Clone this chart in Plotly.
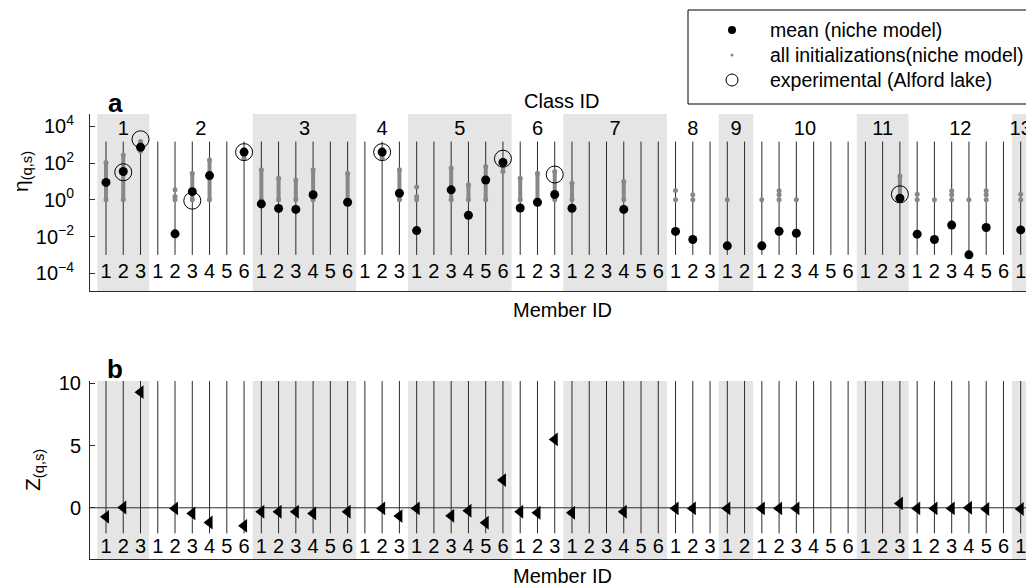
import plotly.graph_objects as go

# ---------------- data ----------------
class_sizes = [3, 6, 6, 3, 6, 3, 6, 3, 2, 6, 3, 6, 1]
class_names = ["1", "2", "3", "4", "5", "6", "7", "8", "9", "10", "11", "12", "13"]

# mean eta (niche model), one entry per member, None = no value
mean_eta = (
    [8.9, 35, 740]
    + [None, 0.014, 2.8, 21, None, 400]
    + [0.6, 0.34, 0.3, 1.9, None, 0.74]
    + [None, 400, 2.3]
    + [0.021, None, 3.5, 0.145, 12, 110]
    + [0.36, 0.74, 1.95]
    + [0.35, None, None, 0.3, None, None]
    + [0.019, 0.0069, None]
    + [0.0031, None]
    + [0.0031, 0.0195, 0.015, None, None, None]
    + [None, None, 1.23]
    + [0.0135, 0.0069, 0.042, 0.001, 0.031, None]
    + [0.023]
)

# experimental (Alford lake)
exp_eta = (
    [None, 32, 2000]
    + [None, None, 0.9, None, None, 400]
    + [None, None, None, None, None, None]
    + [None, 400, None]
    + [None, None, None, None, None, 175]
    + [None, None, 24]
    + [None] * 6
    + [None] * 3
    + [None] * 2
    + [None] * 6
    + [None, None, 2.0]
    + [None] * 6
    + [None]
)

# all initializations: dense band (low, high) and isolated values
init_lo = (
    [1, 1, 440]
    + [None, None, 1, 1, None, 190]
    + [1, 1, 1, 1, None, 1]
    + [None, 190, 1]
    + [None, None, 1, 1, 1, 35]
    + [1, 1, 1]
    + [1, None, None, 1, None, None]
    + [None] * 3
    + [None] * 2
    + [None] * 6
    + [None, None, 1]
    + [None] * 6
    + [None]
)
init_hi = (
    [110, 280, 1500]
    + [None, None, 28, 150, None, 540]
    + [44, 15, 12, 44, None, 28]
    + [None, 540, 44]
    + [None, None, 54, 6.6, 66, 150]
    + [15, 28, 35]
    + [8, None, None, 10, None, None]
    + [None] * 3
    + [None] * 2
    + [None] * 6
    + [None, None, 20]
    + [None] * 6
    + [None]
)
init_dots = (
    [[1, 110], [1, 280], [440, 1500]]
    + [[], [1, 1.5, 3.5], [1, 28], [1, 150], [], [190, 540]]
    + [[1, 44], [1, 15], [1, 12], [1, 44], [], [1, 28]]
    + [[], [190, 540], [1, 44]]
    + [[1, 1.5, 5], [], [1, 54], [1, 6.6], [1, 66], [35, 150]]
    + [[1, 15], [1, 28], [1, 35]]
    + [[1, 8], [], [], [1, 10], [], []]
    + [[1, 3.2], [1, 1.9], []]
    + [[1], []]
    + [[1], [1, 1.9, 3.1], [1], [], [], []]
    + [[], [], [1, 20]]
    + [[1, 2], [1], [1, 1.9, 3.1], [1], [1, 1.9, 3.1], []]
    + [[1, 2]]
)

# Z score per member
z_score = (
    [-0.73, 0.02, 9.3]
    + [None, -0.05, -0.45, -1.18, None, -1.45]
    + [-0.32, -0.32, -0.32, -0.45, None, -0.32]
    + [None, -0.05, -0.67]
    + [-0.05, None, -0.65, -0.24, -1.2, 2.23]
    + [-0.32, -0.4, 5.5]
    + [-0.4, None, None, -0.32, None, None]
    + [-0.05, -0.05, None]
    + [-0.05, None]
    + [-0.05, -0.05, -0.05, None, None, None]
    + [None, None, 0.35]
    + [-0.05, -0.05, -0.05, 0.0, -0.1, None]
    + [-0.1]
)

eta_ticks = [1e-4, 1e-2, 1, 1e2, 1e4]
eta_ticktext = ["10<sup>\u22124</sup>", "10<sup>\u22122</sup>", "10<sup>0</sup>", "10<sup>2</sup>", "10<sup>4</sup>"]
z_ticks = [0, 5, 10]

# ---------------- derived member positions ----------------
member_x, member_lbl, class_center, class_start = [], [], [], []
idx = 0
for n in class_sizes:
    class_start.append(idx)
    class_center.append(idx + (n - 1) / 2)
    for k in range(n):
        member_x.append(idx)
        member_lbl.append(str(k + 1))
        idx += 1

FONT = "Liberation Sans, Arial, Helvetica, sans-serif"
OFF = 8                      # page body margin of the html page
W, H = 1034 - OFF, 586 - OFF
LEFT = 90                    # left edge of the plot area (page pixels)
XR = [-0.927, 53.77]
LINE_C = "#2b2b2b"
GRAY = "#878787"


def dom(top_px, bot_px):
    return [1 - (bot_px - OFF) / H, 1 - (top_px - OFF) / H]


def px2paper(x, y):
    return (x - LEFT) / (1034 - LEFT), 1 - (y - OFF) / H


fig = go.Figure()


def vlines(y0, y1, xa, ya):
    xs, ys = [], []
    for x in member_x:
        xs += [x, x, None]
        ys += [y0, y1, None]
    fig.add_trace(go.Scatter(x=xs, y=ys, mode="lines", line=dict(color=LINE_C, width=1),
                             xaxis=xa, yaxis=ya, hoverinfo="skip", showlegend=False))


vlines(1e-3, 1500, "x", "y")
vlines(-2.06, 10.2, "x2", "y2")

# init bands
bx, by = [], []
for x, lo, hi in zip(member_x, init_lo, init_hi):
    if lo is not None:
        bx += [x, x, None]
        by += [lo, hi, None]
fig.add_trace(go.Scatter(x=bx, y=by, mode="lines", line=dict(color=GRAY, width=4),
                         xaxis="x", yaxis="y", hoverinfo="skip", showlegend=False))
dx, dy = [], []
for x, ds in zip(member_x, init_dots):
    for d in ds:
        dx.append(x)
        dy.append(d)
fig.add_trace(go.Scatter(x=dx, y=dy, mode="markers", marker=dict(color=GRAY, size=5, symbol="circle"),
                         xaxis="x", yaxis="y", hoverinfo="skip", showlegend=False))

# means
fig.add_trace(go.Scatter(x=member_x, y=mean_eta, mode="markers",
                         marker=dict(color="black", size=9), xaxis="x", yaxis="y", showlegend=False))
# experimental
fig.add_trace(go.Scatter(x=member_x, y=exp_eta, mode="markers",
                         marker=dict(color="rgba(0,0,0,0)", size=17, line=dict(color="black", width=1)),
                         xaxis="x", yaxis="y", showlegend=False))
# Z
fig.add_trace(go.Scatter(x=member_x, y=z_score, mode="markers",
                         marker=dict(color="black", size=12, symbol="triangle-left"),
                         xaxis="x2", yaxis="y2", showlegend=False))

# member labels
LBL = 20
fig.add_trace(go.Scatter(x=member_x, y=[1e-4] * len(member_x), text=member_lbl, mode="text",
                         textfont=dict(size=LBL, color="black", family=FONT), textposition="middle center",
                         xaxis="x", yaxis="y", hoverinfo="skip", showlegend=False))
fig.add_trace(go.Scatter(x=member_x, y=[-3.27] * len(member_x), text=member_lbl, mode="text",
                         textfont=dict(size=LBL, color="black", family=FONT), textposition="middle center",
                         xaxis="x2", yaxis="y2", hoverinfo="skip", showlegend=False))
# class labels
fig.add_trace(go.Scatter(x=class_center, y=[10 ** 3.82] * len(class_center), text=class_names, mode="text",
                         textfont=dict(size=LBL, color="black", family=FONT), textposition="middle center",
                         xaxis="x", yaxis="y", hoverinfo="skip", showlegend=False, cliponaxis=False))

# shading bands
shapes = []
for ci, (s, n) in enumerate(zip(class_start, class_sizes)):
    if ci % 2 == 0:
        x0 = s - 0.5
        x1 = s + n - 0.5 if ci < len(class_sizes) - 1 else XR[1]
        for xr, yr in (("x", "y domain"), ("x2", "y2 domain")):
            shapes.append(dict(type="rect", xref=xr, yref=yr, x0=x0, x1=x1, y0=0, y1=1,
                               fillcolor="#e5e5e5", line=dict(width=0), layer="below"))
shapes.append(dict(type="line", xref="x2 domain", yref="y2", x0=0, x1=1, y0=0, y1=0,
                   line=dict(color=LINE_C, width=1), layer="below"))

# legend (manual, on helper axes in page-pixel units)
shapes.append(dict(type="rect", xref="x3", yref="y3", x0=688, x1=1045, y0=10, y1=104,
                   line=dict(color="black", width=1), fillcolor="rgba(0,0,0,0)", layer="above"))
leg_y = [30, 55, 80]
fig.add_trace(go.Scatter(x=[732], y=[leg_y[0]], mode="markers", marker=dict(color="black", size=8),
                         xaxis="x3", yaxis="y3", showlegend=False, hoverinfo="skip"))
fig.add_trace(go.Scatter(x=[732], y=[leg_y[1]], mode="markers", marker=dict(color=GRAY, size=3),
                         xaxis="x3", yaxis="y3", showlegend=False, hoverinfo="skip"))
fig.add_trace(go.Scatter(x=[732], y=[leg_y[2]], mode="markers",
                         marker=dict(color="white", size=12, line=dict(color="black", width=1)),
                         xaxis="x3", yaxis="y3", showlegend=False, hoverinfo="skip"))

annotations = []
for t, yy in zip(["mean (niche model)", "all initializations(niche model)", "experimental (Alford lake)"], leg_y):
    px_, py_ = px2paper(768, yy)
    annotations.append(dict(text=t, x=px_, y=py_, xref="paper", yref="paper", xanchor="left", yanchor="middle",
                            showarrow=False, font=dict(size=19.5, color="black", family=FONT)))


def ann(text, x, y, size=20, bold=False, angle=0):
    px_, py_ = px2paper(x, y)
    annotations.append(dict(text=("<b>%s</b>" % text) if bold else text, x=px_, y=py_,
                            xref="paper", yref="paper",
                            xanchor="center", yanchor="middle", showarrow=False, textangle=angle,
                            font=dict(size=size, color="black", family=FONT)))


ann("Class ID", 562, 101)
ann("Member ID", 562, 310)
ann("Member ID", 562, 576)
ann("a", 115, 103, size=26, bold=True)
ann("b", 115, 369, size=26, bold=True)
ann("\u03b7<sub>(q,s)</sub>", 22, 172, size=21, angle=-90)
ann("Z<sub>(q,s)</sub>", 34, 470, size=21, angle=-90)

axis_common = dict(showgrid=False, zeroline=False, showline=True, linecolor=LINE_C, linewidth=1,
                   mirror=False, automargin=False)
fig.update_layout(
    width=W, height=H,
    margin=dict(l=LEFT - OFF, r=0, t=0, b=0, autoexpand=False),
    paper_bgcolor="white", plot_bgcolor="rgba(0,0,0,0)",
    font=dict(family=FONT, color="black"),
    showlegend=False,
    shapes=shapes, annotations=annotations,
    xaxis=dict(domain=[0, 1], range=XR, anchor="y", showticklabels=False, ticks="", **axis_common),
    xaxis2=dict(domain=[0, 1], range=XR, anchor="y2", showticklabels=False, ticks="", **axis_common),
    yaxis=dict(domain=dom(114, 291), type="log", range=[-4.97, 4.68], anchor="x",
               tickvals=eta_ticks, ticktext=eta_ticktext, ticks="inside", ticklen=5, tickcolor=LINE_C,
               tickfont=dict(size=20, family=FONT), ticklabelstandoff=11, **axis_common),
    yaxis2=dict(domain=dom(381, 559), range=[-4.12, 10.2], anchor="x2",
                tickvals=z_ticks, ticks="inside", ticklen=5, tickcolor=LINE_C,
                tickfont=dict(size=20, family=FONT), ticklabelstandoff=4, **axis_common),
    xaxis3=dict(domain=[0, 1], range=[LEFT, 1034], anchor="y3", visible=False, fixedrange=True, automargin=False),
    yaxis3=dict(domain=[0, 1], range=[586, OFF], anchor="x3", visible=False, fixedrange=True, automargin=False),
)

fig.write_html("out.html")
